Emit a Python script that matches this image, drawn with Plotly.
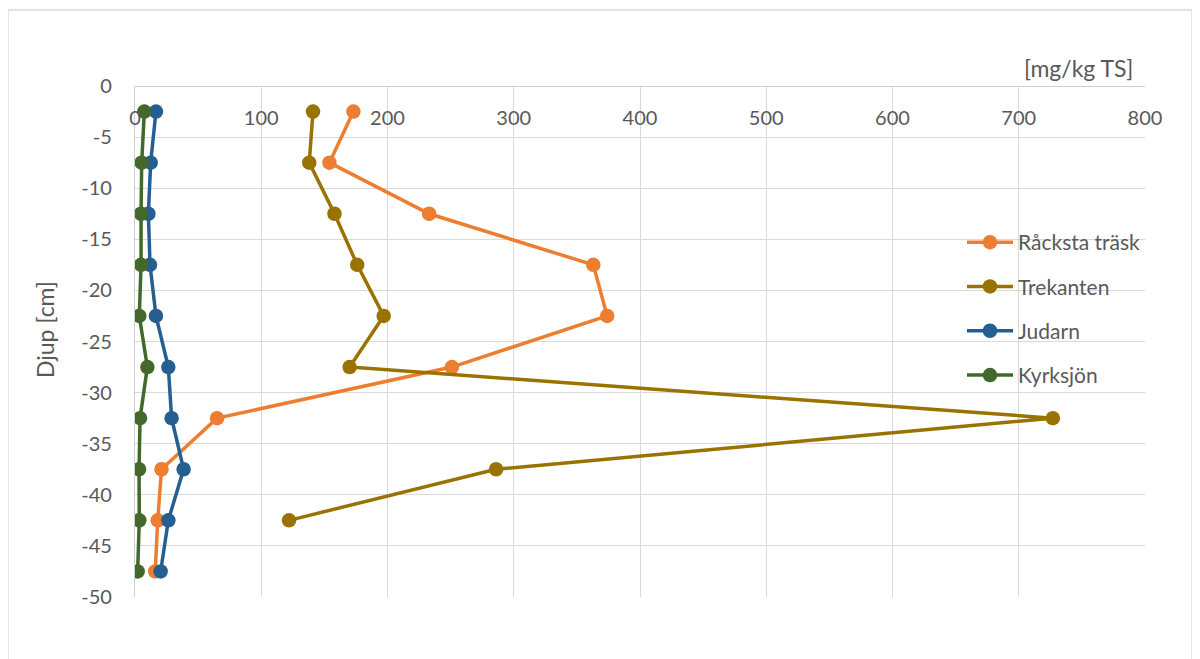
import plotly.graph_objects as go

depth = [-2.5, -7.5, -12.5, -17.5, -22.5, -27.5, -32.5, -37.5, -42.5, -47.5]
racksta = [173, 154, 233, 363, 374, 251, 65, 21, 18, 16]
trekanten = [141, 138, 158, 176, 197, 170, 727, 286, 122, None]
judarn = [16.6, 12.4, 10.6, 11.9, 16.6, 26.4, 29, 38.5, 26.4, 20.3]
kyrksjon = [7.4, 5.3, 4.8, 4.8, 3.4, 9.8, 4.0, 3.2, 3.4, 2.1]

names = ["Råcksta träsk", "Trekanten", "Judarn", "Kyrksjön"]
series = [racksta, trekanten, judarn, kyrksjon]
colors = ["#ED7D31", "#997300", "#255E91", "#43682B"]

y_tickvals = [0, -5, -10, -15, -20, -25, -30, -35, -40, -45, -50]
y_ticktext = ["0", "-5", "-10", "-15", "-20", "-25", "-30", "-35", "-40", "-45", "-50"]

FONT = "Lato, Open Sans, sans-serif"
GRAY = "#595959"

# page origin is offset 8px by the browser's body margin
OX, OY = 8, 8
PL, PR, PT, PB = 135, 1145, 86, 597  # plot area in page pixels
PW, PH = PR - PL, PB - PT

def px_x(px):
    return (px - PL) / PW

def px_y(py):
    return (PB - py) / PH

fig = go.Figure()
for i, (n, s, c) in enumerate(zip(names, series, colors)):
    fig.add_trace(go.Scatter(
        x=s, y=depth, name=n, mode="lines+markers",
        line=dict(color=c, width=3.5),
        marker=dict(color=c, size=14.5),
        legendgroup=f"g{i}",
        connectgaps=False,
    ))

fig.update_layout(
    width=1200, height=659,
    margin=dict(l=PL - OX, r=1200 - (PR - OX), t=PT - OY, b=659 - (PB - OY)),
    paper_bgcolor="white", plot_bgcolor="white",
    font=dict(family=FONT, size=20, color=GRAY),
    showlegend=True,
    legend=dict(
        x=px_x(962), y=px_y(222), xanchor="left", yanchor="top",
        bgcolor="rgba(0,0,0,0)",
        font=dict(family=FONT, size=21, color=GRAY),
        traceorder="grouped", tracegroupgap=14,
        itemwidth=46,
    ),
    xaxis=dict(
        range=[0, 800], dtick=100,
        anchor="free", position=1, side="bottom",
        ticklabelstandoff=14,
        showgrid=True, gridcolor="#D9D9D9", gridwidth=1.3,
        showline=True, linecolor="#CFCFCF", linewidth=1.3,
        zeroline=False, ticks="", automargin=False,
        tickfont=dict(family=FONT, size=20, color=GRAY),
    ),
    yaxis=dict(
        range=[-50, 0], tickvals=y_tickvals, ticktext=y_ticktext,
        showgrid=True, gridcolor="#D9D9D9", gridwidth=1.3,
        showline=True, linecolor="#CFCFCF", linewidth=1.3,
        zeroline=False, ticks="", ticklabelstandoff=18, automargin=False,
        tickfont=dict(family=FONT, size=20, color=GRAY),
    ),
    annotations=[
        dict(text="[mg/kg TS]", xref="paper", yref="paper",
             x=px_x(1078), y=px_y(68),
             xanchor="center", yanchor="middle", showarrow=False,
             font=dict(family=FONT, size=23, color=GRAY)),
        dict(text="Djup [cm]", xref="paper", yref="paper",
             x=px_x(45), y=px_y(330),
             xanchor="center", yanchor="middle", showarrow=False,
             textangle=-90,
             font=dict(family=FONT, size=23, color=GRAY)),
    ],
    shapes=[
        dict(type="rect", xref="paper", yref="paper",
             x0=px_x(8), x1=px_x(1192),
             y0=px_y(690), y1=px_y(10),
             line=dict(color="#D9D9D9", width=1.3), fillcolor="rgba(0,0,0,0)",
             layer="below"),
    ],
)

fig.write_html("out.html")
